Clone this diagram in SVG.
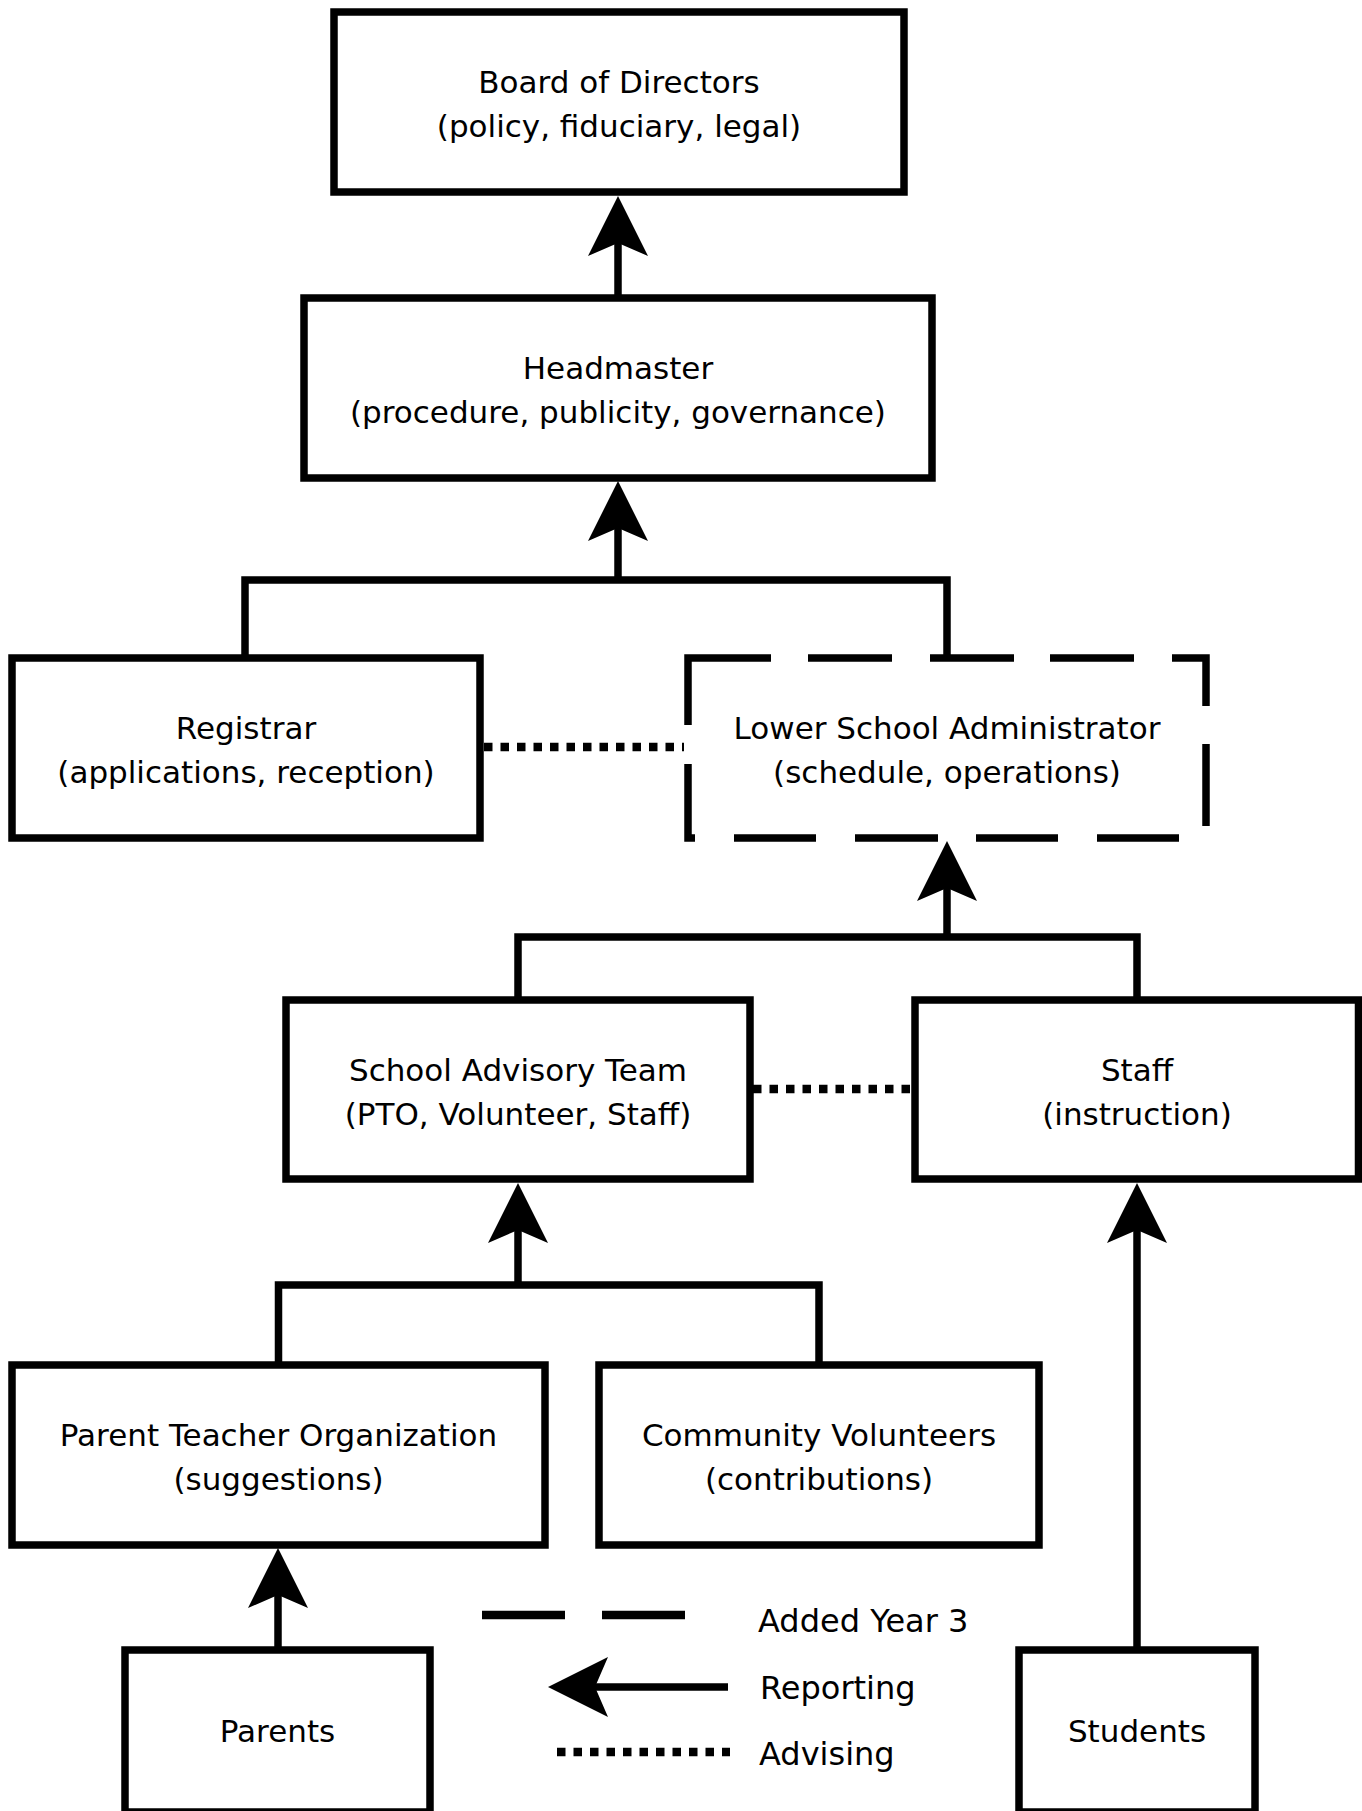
<svg xmlns="http://www.w3.org/2000/svg" width="1362" height="1811" viewBox="0 0 1362 1811">
<style>
.box{fill:#fff;stroke:#000;stroke-width:7.5;stroke-linejoin:miter}
.dbox{fill:#fff;stroke:#000;stroke-width:7.5;stroke-linejoin:miter;stroke-dasharray:150 37 84 38 84 36 84 38 82 38 82 39 82 39 82 38 83 39 82 39 81 40}
.t{font-family:"DejaVu Sans","Verdana",sans-serif;font-size:31px;fill:#000;text-anchor:middle}
.lt{font-family:"DejaVu Sans","Verdana",sans-serif;font-size:32px;fill:#000}
.ln{fill:none;stroke:#000;stroke-width:7.5;stroke-linejoin:miter}
.arr{fill:none;stroke:#000;stroke-width:7.5;marker-end:url(#ah)}
.dot{fill:none;stroke:#000;stroke-width:8.5;stroke-dasharray:8.5 8}
.dash{fill:none;stroke:#000;stroke-width:8.5;stroke-dasharray:83 37}
</style>
<defs>
<marker id="ah" markerUnits="userSpaceOnUse" markerWidth="62" markerHeight="62" viewBox="0 -31 62 62" refX="15" refY="0" orient="auto">
<path d="M0,-30 L60,0 L0,30 L13,0 Z" fill="#000"/>
</marker>
</defs>
<rect width="1362" height="1811" fill="#fff"/>
<g id="connectors">
<path class="ln" d="M245,658 V580 H947 V658"/>
<path class="ln" d="M518,1000 V937 H1137 V1000"/>
<path class="ln" d="M278.5,1365 V1285 H819 V1365"/>
<path class="arr" d="M618,298 V241"/>
<path class="arr" d="M618,580 V526"/>
<path class="arr" d="M947,937 V886"/>
<path class="arr" d="M518,1285 V1228"/>
<path class="arr" d="M1137,1650 V1228"/>
<path class="arr" d="M278,1650 V1593"/>
<path class="dot" d="M484,747 H684"/>
<path class="dot" d="M753,1089 H911"/>
</g>
<g id="board"><rect class="box" x="334" y="12" width="570" height="180"/><text class="t" x="619" y="92.5">Board of Directors</text><text class="t" x="619" y="136.5">(policy, fiduciary, legal)</text></g>
<g id="headmaster"><rect class="box" x="304" y="298" width="628" height="180"/><text class="t" x="618" y="379">Headmaster</text><text class="t" x="618" y="423">(procedure, publicity, governance)</text></g>
<g id="registrar"><rect class="box" x="12" y="658" width="468" height="180"/><text class="t" x="246" y="739">Registrar</text><text class="t" x="246" y="783">(applications, reception)</text></g>
<g id="lsa"><path class="dbox" d="M688,725 V658 H1206 V838 H688 Z"/><text class="t" x="947" y="739">Lower School Administrator</text><text class="t" x="947" y="783">(schedule, operations)</text></g>
<g id="sat"><rect class="box" x="286" y="1000" width="464" height="179"/><text class="t" x="518" y="1081">School Advisory Team</text><text class="t" x="518" y="1125">(PTO, Volunteer, Staff)</text></g>
<g id="staff"><rect class="box" x="915" y="1000" width="443.5" height="179"/><text class="t" x="1137" y="1081">Staff</text><text class="t" x="1137" y="1125">(instruction)</text></g>
<g id="pto"><rect class="box" x="12" y="1365" width="533" height="180"/><text class="t" x="278.5" y="1446">Parent Teacher Organization</text><text class="t" x="278.5" y="1490">(suggestions)</text></g>
<g id="cv"><rect class="box" x="599" y="1365" width="440" height="180"/><text class="t" x="819" y="1446">Community Volunteers</text><text class="t" x="819" y="1490">(contributions)</text></g>
<g id="parents"><rect class="box" x="125" y="1650" width="305" height="162"/><text class="t" x="277.5" y="1742">Parents</text></g>
<g id="students"><rect class="box" x="1019" y="1650" width="236" height="162"/><text class="t" x="1137" y="1742">Students</text></g>
<g id="legend">
<path class="dash" d="M482,1615 H686"/>
<text class="lt" x="758" y="1632">Added Year 3</text>
<path class="arr" d="M728,1687 H593"/>
<text class="lt" x="760" y="1699">Reporting</text>
<path class="dot" d="M557,1752 H730"/>
<text class="lt" x="759" y="1765">Advising</text>
</g>
</svg>
